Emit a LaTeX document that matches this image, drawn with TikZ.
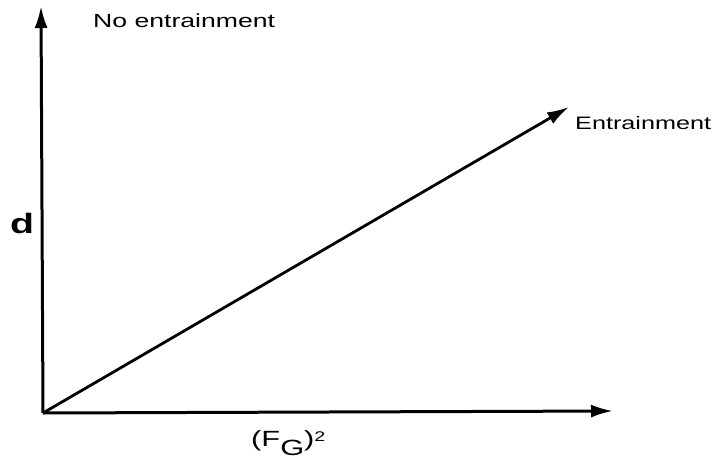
\documentclass[tikz,border=0pt]{standalone}
\usepackage{fontspec}
\setmainfont{Liberation Sans}[FakeStretch=1.4]
\usepackage{tikz}
\usetikzlibrary{positioning, arrows.meta}

\begin{document}
\begin{tikzpicture}[
        x=1pt, y=-1pt,
        axis/.style={line width=3pt, -{Latex[length=22pt, width=13pt]}},
        lbl/.style={inner sep=0pt, anchor=base west, font=\fontsize{19}{21}\selectfont},
        big/.style={inner sep=0pt, anchor=base west, font=\fontsize{28}{30}\selectfont\bfseries}
    ]
    \useasboundingbox (0,0) rectangle (719,465);
    % axes and the growth line
    \coordinate (o) at (43,413);
    \coordinate (ytip) at (41,6);
    \coordinate (xtip) at (613,411);
    \coordinate (dtip) at (569,107);
    \draw[axis] (o) -- (ytip);
    \draw[axis] (o) -- (xtip);
    \draw[axis, line width=2.8pt] (o) -- (dtip);
    % labels
    \node[lbl] (noent) at (93,28) {No entrainment};
    \node[lbl, font=\fontsize{18}{20}\selectfont] (ent) at (575,130) {Entrainment};
    \node[big] (dlab) at (10,233) {d};
    \node[lbl, font=\fontsize{22}{24}\selectfont] (fg) at (251,446)
        {(F\raisebox{-9pt}{G})\raisebox{5pt}{\fontsize{14}{14}\selectfont 2}};
\end{tikzpicture}
\end{document}
